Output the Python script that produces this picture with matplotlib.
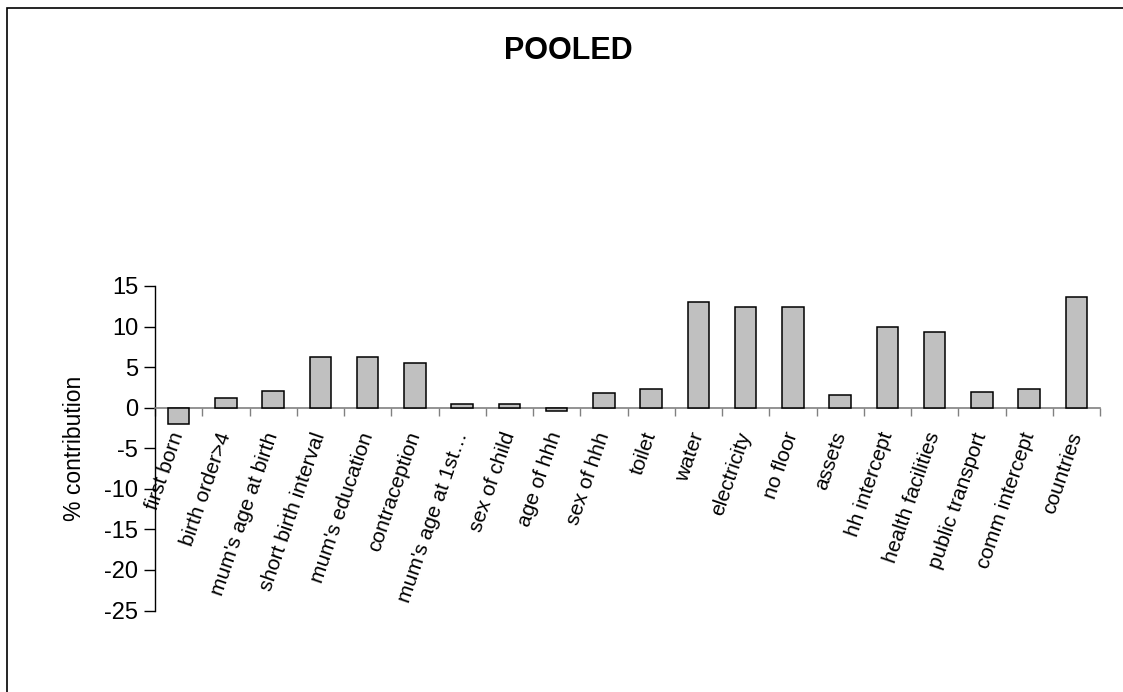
import matplotlib
matplotlib.use("Agg")
import matplotlib.pyplot as plt
from matplotlib.patches import Rectangle
import numpy as np

categories = ["first born", "birth order>4", "mum's age at birth", "short birth interval",
              "mum's education", "contraception", "mum's age at 1st…", "sex of child",
              "age of hhh", "sex of hhh", "toilet", "water", "electricity", "no floor",
              "assets", "hh intercept", "health facilities", "public transport",
              "comm intercept", "countries"]
values = [-2.0, 1.2, 2.0, 6.3, 6.3, 5.5, 0.4, 0.4, -0.4, 1.8, 2.35, 13.0, 12.4, 12.4,
          1.6, 9.9, 9.3, 1.95, 2.35, 13.6]
yticks = [-25, -20, -15, -10, -5, 0, 5, 10, 15]

plt.rcParams['font.family'] = ['Liberation Sans', 'DejaVu Sans']

W, H = 1123, 692
fig = plt.figure(figsize=(W / 100, H / 100), dpi=100)
ax = fig.add_axes([155 / W, 1 - 610.5 / H, (1100 - 155) / W, (610.5 - 286) / H])

x = np.arange(len(categories))
ax.bar(x, values, width=0.45, color='#C0C0C0', edgecolor='black', linewidth=1.1, zorder=3)

ax.set_xlim(-0.5, len(categories) - 0.5)
ax.set_ylim(-25, 15)
ax.set_yticks(yticks)
ax.set_yticklabels([str(v) for v in yticks], fontsize=17)
ax.tick_params(axis='y', direction='out', length=8, width=1, pad=4)

for s in ['top', 'right']:
    ax.spines[s].set_visible(False)
ax.spines['bottom'].set_position(('data', 0))
ax.spines['bottom'].set_color('#808080')
ax.spines['bottom'].set_linewidth(1.2)
ax.spines['left'].set_linewidth(1)

ax.set_xticks(x)
ax.set_xticklabels(categories, fontsize=15, rotation=71, ha='right', va='center',
                   rotation_mode='anchor')
ax.tick_params(axis='x', which='major', length=0, pad=18)
ax.set_xticks(np.arange(-0.5, len(categories), 1), minor=True)
ax.tick_params(axis='x', which='minor', direction='out', length=6, width=1, color='#808080')

ax.set_ylabel('% contribution', fontsize=16.5, labelpad=13)

fig.text(568 / W, 1 - 51 / H, 'POOLED', fontsize=22, fontweight='bold',
         ha='center', va='center')

fig.patches.append(Rectangle((7 / W, -0.05), 1.1, 1 - 8 / H + 0.05, transform=fig.transFigure,
                             fill=False, edgecolor='black', linewidth=1.2))

fig.savefig('out.png', dpi=100)
